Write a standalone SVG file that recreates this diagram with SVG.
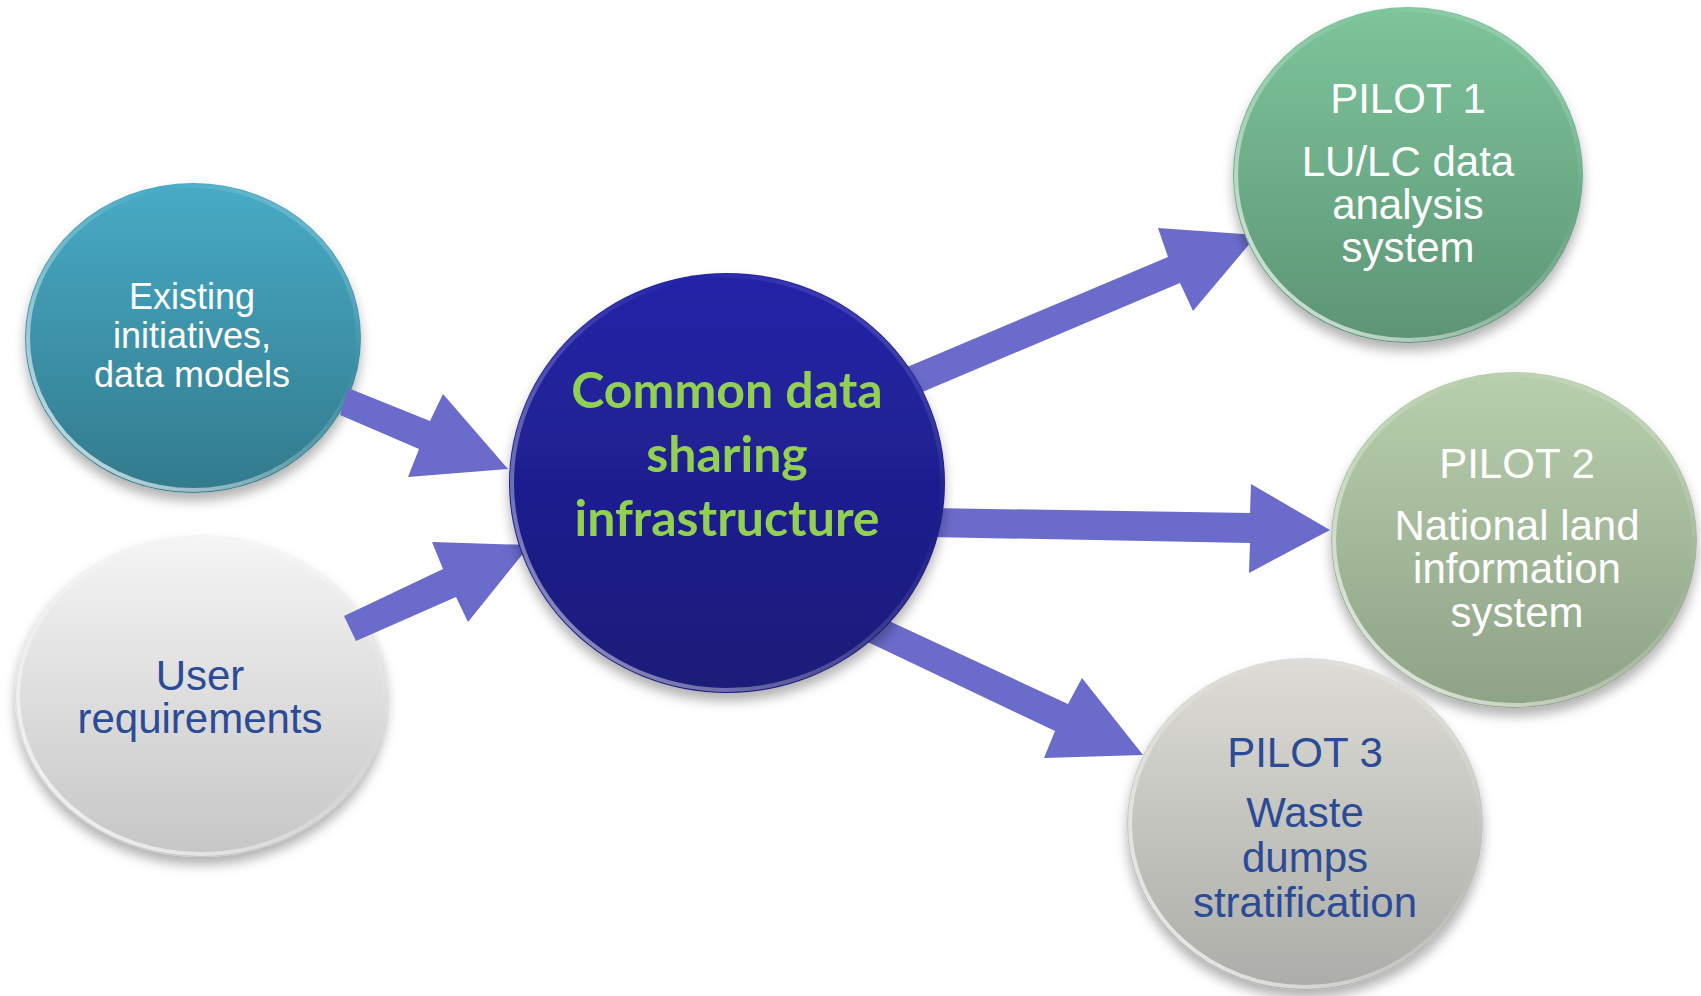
<svg xmlns="http://www.w3.org/2000/svg" width="1701" height="996" viewBox="0 0 1701 996">
<defs>
<style>
.lbl{font-family:"Liberation Sans",Arial,sans-serif;text-anchor:middle}
.w{fill:#ffffff}
.b{fill:#2b4b96}
.ctr{font-family:Lato,"Open Sans",sans-serif;font-weight:bold;text-anchor:middle;fill:#91d050}
.arrow{fill:#6b6bcc}
.rim{fill:none;stroke-width:4}
</style>
<filter id="sh" x="-20%" y="-20%" width="140%" height="150%">
<feDropShadow dx="0" dy="8" stdDeviation="6" flood-color="#000" flood-opacity="0.3"/>
</filter>
<linearGradient id="gExist" x1="0" y1="0" x2="0" y2="1"><stop offset="0" stop-color="#47abc6"/><stop offset="1" stop-color="#327a8c"/></linearGradient>
<linearGradient id="gUser" x1="0" y1="0" x2="0" y2="1"><stop offset="0" stop-color="#f5f5f5"/><stop offset="1" stop-color="#c6c6c6"/></linearGradient>
<linearGradient id="gCtr" x1="0" y1="0" x2="0" y2="1"><stop offset="0" stop-color="#2424a8"/><stop offset="1" stop-color="#1a1a78"/></linearGradient>
<linearGradient id="gP1" x1="0" y1="0" x2="0" y2="1"><stop offset="0" stop-color="#7dc59b"/><stop offset="1" stop-color="#5d9475"/></linearGradient>
<linearGradient id="gP2" x1="0" y1="0" x2="0" y2="1"><stop offset="0" stop-color="#b8cfad"/><stop offset="1" stop-color="#8ea286"/></linearGradient>
<linearGradient id="gP3" x1="0" y1="0" x2="0" y2="1"><stop offset="0" stop-color="#dddcd6"/><stop offset="1" stop-color="#acaca8"/></linearGradient>
<linearGradient id="rimL" x1="0" y1="1" x2="1" y2="0"><stop offset="0" stop-color="#ffffff" stop-opacity="0.85"/><stop offset="0.45" stop-color="#ffffff" stop-opacity="0.25"/><stop offset="0.7" stop-color="#ffffff" stop-opacity="0"/><stop offset="1" stop-color="#ffffff" stop-opacity="0.35"/></linearGradient>
</defs>
<rect width="1701" height="996" fill="#ffffff"/>
<g id="node-existing">
<ellipse cx="193" cy="338" rx="168" ry="155" fill="url(#gExist)" filter="url(#sh)"/>
<ellipse class="rim" cx="193" cy="338" rx="165" ry="152" stroke="url(#rimL)"/>
<text class="lbl w" font-size="36"><tspan x="192" y="309">Existing</tspan><tspan x="192" y="348">initiatives,</tspan><tspan x="192" y="387">data models</tspan></text>
</g>
<g id="node-user">
<ellipse cx="201" cy="696" rx="186" ry="161" fill="url(#gUser)" filter="url(#sh)"/>
<ellipse class="rim" cx="201" cy="696" rx="183" ry="158" stroke="url(#rimL)"/>
<text class="lbl b" font-size="42"><tspan x="200" y="690">User</tspan><tspan x="200" y="733">requirements</tspan></text>
</g>
<g id="connectors">
<polygon class="arrow" points="348,388 430,421 443,394 508,469 408,477 419,449 340,415"/>
<polygon class="arrow" points="356,641 456,597 468,622 530,545 432,542 443,569 344,616"/>
<polygon class="arrow" points="900,370 1168,257 1158,228 1257,235 1193,311 1180,283 913,396"/>
<polygon class="arrow" points="930,508 1250,513 1251,484 1330,530 1249,573 1250,543 930,537"/>
<polygon class="arrow" points="861,608 1068,704 1082,678 1143,755 1044,758 1055,731 853,635"/>
</g>
<g id="node-central">
<ellipse cx="727" cy="483" rx="218" ry="210" fill="url(#gCtr)" filter="url(#sh)"/>
<ellipse class="rim" cx="727" cy="483" rx="215" ry="207" stroke="url(#rimL)" opacity="0.7"/>
<text class="ctr" font-size="50"><tspan x="727" y="408">Common data</tspan><tspan x="727" y="472">sharing</tspan><tspan x="727" y="536">infrastructure</tspan></text>
</g>
<g id="node-pilot1">
<ellipse cx="1408" cy="175" rx="175" ry="168" fill="url(#gP1)" filter="url(#sh)"/>
<ellipse class="rim" cx="1408" cy="175" rx="172" ry="165" stroke="url(#rimL)"/>
<text class="lbl w" font-size="42"><tspan x="1408" y="113">PILOT 1</tspan><tspan x="1408" y="176">LU/LC data</tspan><tspan x="1408" y="219">analysis</tspan><tspan x="1408" y="262">system</tspan></text>
</g>
<g id="node-pilot2">
<ellipse cx="1514" cy="540" rx="183" ry="168" fill="url(#gP2)" filter="url(#sh)"/>
<ellipse class="rim" cx="1514" cy="540" rx="180" ry="165" stroke="url(#rimL)"/>
<text class="lbl w" font-size="42"><tspan x="1517" y="478">PILOT 2</tspan><tspan x="1517" y="540">National land</tspan><tspan x="1517" y="583">information</tspan><tspan x="1517" y="627">system</tspan></text>
</g>
<g id="node-pilot3">
<ellipse cx="1305" cy="824" rx="178" ry="166" fill="url(#gP3)" filter="url(#sh)"/>
<ellipse class="rim" cx="1305" cy="824" rx="175" ry="163" stroke="url(#rimL)"/>
<text class="lbl b" font-size="42"><tspan x="1305" y="767">PILOT 3</tspan><tspan x="1305" y="827">Waste</tspan><tspan x="1305" y="872">dumps</tspan><tspan x="1305" y="917">stratification</tspan></text>
</g>
</svg>
